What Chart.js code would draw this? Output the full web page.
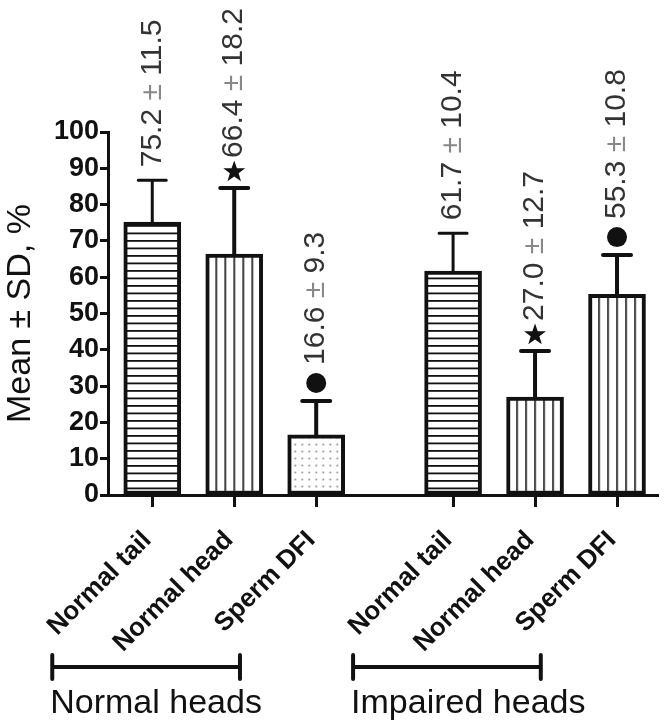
<!DOCTYPE html>
<html>
<head>
<meta charset="utf-8">
<style>
  body { margin: 0; background: #fff; }
  canvas { display: block; }
</style>
<script src="https://cdn.jsdelivr.net/npm/chart.js@4.4.1/dist/chart.umd.min.js"></script>
</head>
<body>
<canvas id="chart" width="664" height="721"></canvas>
<script>
const categories = ['Normal tail', 'Normal head', 'Sperm DFI', 'Normal tail', 'Normal head', 'Sperm DFI'];
const xPositions = [0, 1, 2, 3.67, 4.67, 5.67];
const means = [75.2, 66.4, 16.6, 61.7, 27.0, 55.3];
const sds = [11.5, 18.2, 9.3, 10.4, 12.7, 10.8];
const markers = ['', 'star', 'dot', '', 'star', 'dot'];
const groupNames = ['Normal heads', 'Impaired heads'];
const groupStarts = [0, 3];
const yTicks = [0, 10, 20, 30, 40, 50, 60, 70, 80, 90, 100];

// styling, one entry per bar
const fills = ['hlines', 'vlines', 'dots', 'hlines', 'vlines', 'vlines'];
const whiskerWidths = [3, 4, 4, 3, 4, 4];

const ink = '#111';
const fontFamily = '"Liberation Sans", Arial, Helvetica, sans-serif';

Chart.defaults.font.family = fontFamily;
Chart.defaults.color = ink;

function makePattern(kind, cx) {
    const tile = document.createElement('canvas');
    const c = tile.getContext('2d');
    let shiftX = 0;
    if (kind === 'hlines') {
        tile.width = 4; tile.height = 15;
        c.fillStyle = '#fff'; c.fillRect(0, 0, 4, 15);
        c.fillStyle = ink;
        c.fillRect(0, 0, 4, 1.8);
        c.fillRect(0, 7.5, 4, 1.8);
    } else if (kind === 'vlines') {
        tile.width = 9; tile.height = 4;
        c.fillStyle = '#fff'; c.fillRect(0, 0, 9, 4);
        c.fillStyle = ink;
        c.fillRect(0, 0, 1.6, 4);
        shiftX = cx - 0.8;
    } else {
        tile.width = 7; tile.height = 7;
        c.fillStyle = '#fff'; c.fillRect(0, 0, 7, 7);
        c.fillStyle = '#8a8a8a';
        c.beginPath(); c.arc(3.5, 3.5, 0.9, 0, Math.PI * 2); c.fill();
        shiftX = cx - 3.5;
    }
    const pattern = c.createPattern(tile, 'repeat');
    pattern.setTransform(new DOMMatrix().translate(shiftX, 0));
    return pattern;
}

function drawStar(ctx, x, y, outer, inner) {
    ctx.beginPath();
    for (let k = 0; k < 10; k++) {
        const r = k % 2 === 0 ? outer : inner;
        const a = -Math.PI / 2 + k * Math.PI / 5;
        const px = x + r * Math.cos(a);
        const py = y + r * Math.sin(a);
        if (k === 0) ctx.moveTo(px, py); else ctx.lineTo(px, py);
    }
    ctx.closePath();
    ctx.fill();
}

const errorBarsPlugin = {
    id: 'errorBars',
    afterDatasetsDraw(chart) {
        const { ctx, scales: { y } } = chart;
        const meta = chart.getDatasetMeta(0);
        meta.data.forEach((bar, i) => {
            const top = y.getPixelForValue(means[i] + sds[i]);
            ctx.save();
            ctx.strokeStyle = ink;
            ctx.lineWidth = whiskerWidths[i];
            ctx.lineCap = 'round';
            ctx.beginPath();
            ctx.moveTo(bar.x, bar.y);
            ctx.lineTo(bar.x, top);
            ctx.moveTo(bar.x - 14, top);
            ctx.lineTo(bar.x + 14, top);
            ctx.stroke();

            ctx.fillStyle = ink;
            let textStart = top - 13;
            if (markers[i] === 'star') {
                drawStar(ctx, bar.x, top - 16, 11.5, 4.6);
                textStart = top - 30;
            } else if (markers[i] === 'dot') {
                ctx.beginPath();
                ctx.arc(bar.x, top - 18, 10, 0, Math.PI * 2);
                ctx.fill();
                textStart = top - 36;
            }

            ctx.translate(bar.x, textStart);
            ctx.rotate(-Math.PI / 2);
            ctx.font = '30px ' + fontFamily;
            ctx.textAlign = 'left';
            ctx.textBaseline = 'middle';
            const parts = [
                [means[i].toFixed(1) + ' ', '#333'],
                ['±', '#888'],
                [' ' + sds[i].toFixed(1), '#333'],
            ];
            let pos = 0;
            for (const [text, color] of parts) {
                ctx.fillStyle = color;
                ctx.fillText(text, pos, 0);
                pos += ctx.measureText(text).width;
            }
            ctx.restore();
        });
    }
};

const groupsPlugin = {
    id: 'groups',
    afterDraw(chart) {
        const { ctx, scales: { x } } = chart;
        const lineY = x.bottom - 54;
        groupStarts.forEach((start, g) => {
            const x1 = x.getPixelForValue(xPositions[start] - 1.22);
            const x2 = x.getPixelForValue(xPositions[start] + 1.07);
            ctx.save();
            ctx.strokeStyle = ink;
            ctx.lineWidth = 4;
            ctx.lineCap = 'round';
            ctx.beginPath();
            ctx.moveTo(x1, lineY); ctx.lineTo(x2, lineY);
            ctx.moveTo(x1, lineY - 12); ctx.lineTo(x1, lineY + 12);
            ctx.moveTo(x2, lineY - 12); ctx.lineTo(x2, lineY + 12);
            ctx.stroke();
            ctx.fillStyle = ink;
            ctx.font = '34px ' + fontFamily;
            ctx.textAlign = 'left';
            ctx.textBaseline = 'alphabetic';
            ctx.fillText(groupNames[g], x1 - 2, x.bottom - 8);
            ctx.restore();
        });
    }
};

new Chart(document.getElementById('chart'), {
    type: 'bar',
    data: {
        datasets: [{
            data: xPositions.map((x, i) => ({ x, y: means[i] })),
            backgroundColor: (context) => {
                const xScale = context.chart.scales.x;
                if (!xScale || context.dataIndex === undefined) return '#fff';
                const cx = xScale.getPixelForValue(xPositions[context.dataIndex]);
                return makePattern(fills[context.dataIndex], cx);
            },
            borderColor: ink,
            borderWidth: 4,
            borderSkipped: false,
            barThickness: 57,
        }]
    },
    options: {
        responsive: false,
        animation: false,
        layout: {
            padding: { top: 132, right: 6, left: 0, bottom: 0 }
        },
        plugins: {
            legend: { display: false },
            tooltip: { enabled: false },
        },
        scales: {
            x: {
                type: 'linear',
                offset: false,
                min: -0.54,
                max: 6.17,
                afterBuildTicks: (scale) => {
                    scale.ticks = xPositions.map((v) => ({ value: v }));
                },
                afterFit: (scale) => { scale.height = 226; },
                ticks: {
                    autoSkip: false,
                    minRotation: 45,
                    maxRotation: 45,
                    padding: 18,
                    labelOffset: -5,
                    color: ink,
                    font: { size: 26, weight: 'bold' },
                    callback: (value, index) => categories[index],
                },
                grid: {
                    offset: false,
                    drawOnChartArea: false,
                    drawTicks: true,
                    tickLength: 12,
                    tickWidth: 3,
                    tickColor: ink,
                },
                border: { display: true, width: 3, color: ink },
            },
            y: {
                min: 0,
                max: 100,
                afterBuildTicks: (scale) => {
                    scale.ticks = yTicks.map((v) => ({ value: v }));
                },
                afterFit: (scale) => { scale.width = 108; },
                ticks: {
                    padding: 1,
                    color: ink,
                    font: { size: 27, weight: 'bold' },
                },
                grid: {
                    drawOnChartArea: false,
                    drawTicks: true,
                    tickLength: 8,
                    tickWidth: 3,
                    tickColor: ink,
                },
                border: { display: true, width: 3, color: ink },
                title: {
                    display: true,
                    text: 'Mean ± SD, %',
                    color: ink,
                    font: { size: 34 },
                    padding: { top: 0, bottom: 0 },
                },
            },
        },
    },
    plugins: [errorBarsPlugin, groupsPlugin],
});
</script>
</body>
</html>
